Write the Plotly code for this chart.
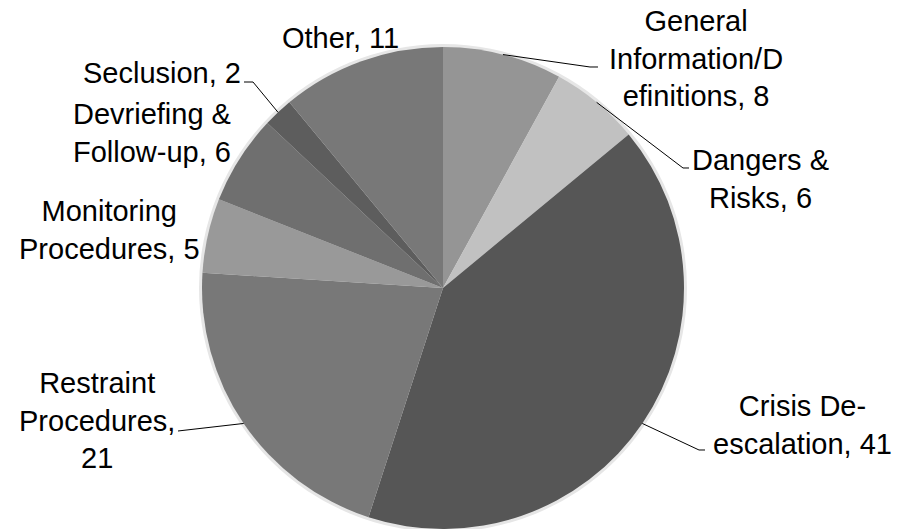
import math
import plotly.graph_objects as go

categories = ["General Information/Definitions", "Dangers & Risks", "Crisis De-escalation",
              "Restraint Procedures", "Monitoring Procedures", "Devriefing & Follow-up",
              "Seclusion", "Other"]
values = [8, 6, 41, 21, 5, 6, 2, 11]
label_texts = ["General<br>Information/D<br>efinitions, 8", "Dangers &<br>Risks, 6",
               "Crisis De-<br>escalation, 41", "Restraint<br>Procedures,<br>21",
               "Monitoring<br>Procedures, 5", "Devriefing &<br>Follow-up, 6",
               "Seclusion, 2", "Other, 11"]
colors = ["#959595", "#c1c1c1", "#565656", "#787878", "#999999", "#6f6f6f", "#5d5d5d", "#787878"]

W, H = 902, 529
CX, CY, R = 443, 288, 241

# label centre positions (pixels) and leader-line elbow points (None = no leader)
label_pos = [(696, 58), (760, 179), (802, 425), (97, 420), (109, 230), (152, 133), (162, 73), (340, 38)]
leader = [[(590, 67), (598, 67)], [(683, 168), (689, 168)], [(699, 450), (705, 450)],
          [(178, 431)], None, None, [(253, 82), (244, 82)], None]

def px(x, y):
    return x / W, 1 - y / H

fig = go.Figure()
fig.add_trace(go.Pie(
    labels=categories, values=values, sort=False, direction="clockwise", rotation=0,
    marker=dict(colors=colors, line=dict(width=0)),
    textinfo="none", hoverinfo="label+value", showlegend=False,
    domain=dict(x=[(CX - R) / W, (CX + R) / W], y=[(H - CY - R) / H, (H - CY + R) / H]),
))

shapes = []
# soft halo around pie
hx0, hy0 = px(CX - R - 3, CY - R - 3)
hx1, hy1 = px(CX + R + 3, CY + R + 3)
shapes.append(dict(type="circle", xref="paper", yref="paper", x0=hx0, y0=hy1, x1=hx1, y1=hy0,
                   fillcolor="#e6e6e6", line=dict(width=0), layer="below"))

total = sum(values)
cum = 0
annotations = []
for i, v in enumerate(values):
    mid = (cum + v / 2) / total * 2 * math.pi
    cum += v
    ex = CX + R * math.sin(mid)
    ey = CY - R * math.cos(mid)
    if leader[i]:
        pts = [(ex, ey)] + leader[i]
        path = "M " + " L ".join("{:.5f},{:.5f}".format(*px(x, y)) for x, y in pts)
        shapes.append(dict(type="path", xref="paper", yref="paper", path=path,
                           line=dict(color="#000000", width=1)))
    lx, ly = px(*label_pos[i])
    annotations.append(dict(x=lx, y=ly, xref="paper", yref="paper", text=label_texts[i],
                            showarrow=False, xanchor="center", yanchor="middle", align="center",
                            font=dict(family="Liberation Sans", size=29, color="#000000")))

fig.update_layout(width=W, height=H, margin=dict(l=0, r=0, t=0, b=0),
                  paper_bgcolor="white", plot_bgcolor="white",
                  shapes=shapes, annotations=annotations)
fig.write_html("out.html", config={"displayModeBar": False},
               post_script="document.body.style.margin='0px';")
